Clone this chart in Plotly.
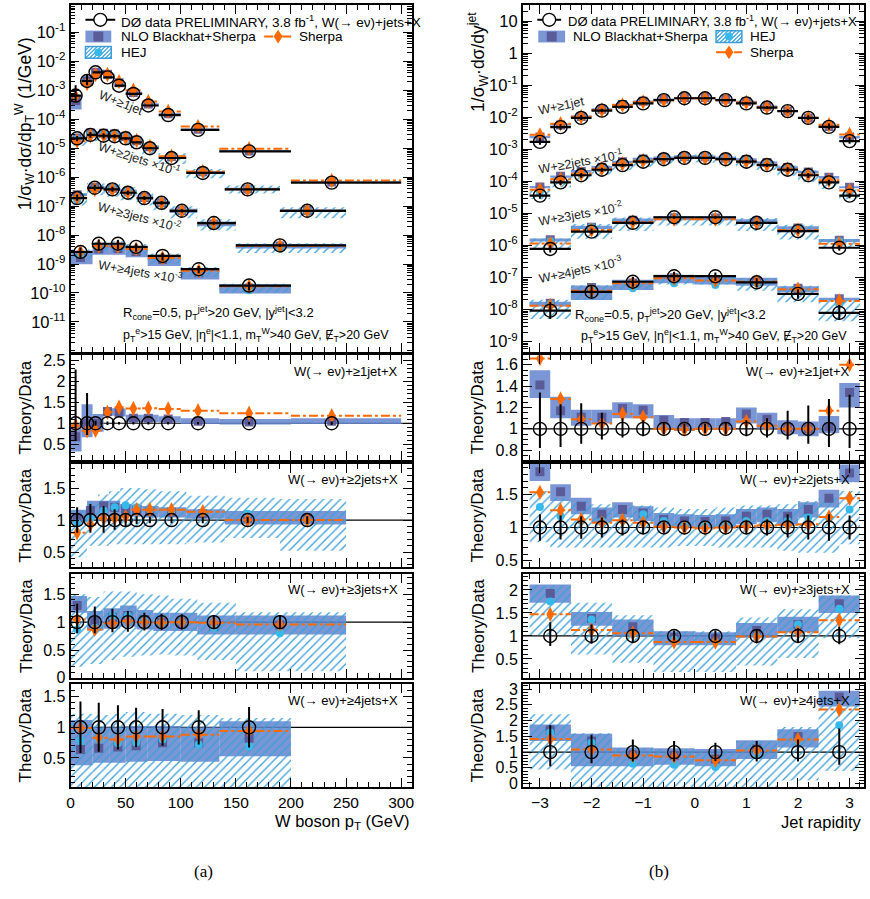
import plotly.graph_objects as go

W, H = 870, 899
FONT = "Liberation Sans, Arial, Helvetica, sans-serif"
NLO_COL = "rgba(100,132,204,0.85)"
NLO_DARK = "rgba(88,84,146,0.9)"
HEJ_COL = "#3a9fd8"
HEJ_DOT = "#38b9ec"
SH_COL = "#ff6a00"

# ======================= W boson pT (left column) =======================
pt_edges_1j = [0, 10, 20, 30, 40, 50, 65, 80, 100, 135, 200, 300]
pt_x_1j = [4.6, 15, 22.7, 33.5, 44, 57, 70.6, 88.6, 115.7, 162, 237]
pt_data_1j = [6.6e-4, 2.1e-3, 4.2e-3, 2.8e-3, 1.45e-3, 7.5e-4, 3.0e-4, 1.4e-4, 4.3e-5, 7.8e-6, 6.5e-7]
pt_eup_1j = [1.28, 0.72, 0.06, 0.04, 0.03, 0.03, 0.03, 0.03, 0.03, 0.03, 0.04]
pt_edn_1j = [0.42, 0.28, 0.06, 0.04, 0.03, 0.03, 0.03, 0.03, 0.03, 0.03, 0.04]
pt_nlo_1j = [0.68, 1.0, 1.0, 1.28, 1.26, 1.12, 1.12, 1.1, 1.05, 1.03, 1.05]
pt_nlo_lo_1j = [0.33, 0.67, 0.8, 1.18, 1.16, 1.03, 1.03, 1.02, 0.98, 0.97, 0.98]
pt_nlo_hi_1j = [1.0, 1.45, 1.22, 1.36, 1.35, 1.2, 1.2, 1.17, 1.12, 1.1, 1.12]
pt_sh_1j = [0.94, 0.82, 0.83, 1.26, 1.38, 1.35, 1.36, 1.34, 1.30, 1.24, 1.18]

pt_edges_2j = [0, 15, 25, 35, 45, 55, 65, 80, 105, 140, 190, 250]
pt_x_2j = [6, 18, 30, 40, 50, 60, 72, 91.6, 120, 160.7, 214.8]
pt_data_2j = [2.2e-5, 2.9e-5, 2.7e-5, 2.6e-5, 2.2e-5, 1.6e-5, 1.0e-5, 4.6e-6, 1.4e-6, 3.8e-7, 6.9e-8]
pt_eup_2j = [0.2, 0.25, 0.22, 0.17, 0.1, 0.06, 0.05, 0.05, 0.05, 0.05, 0.06]
pt_edn_2j = [0.2, 0.2, 0.2, 0.15, 0.1, 0.06, 0.05, 0.05, 0.05, 0.05, 0.06]
pt_nlo_2j = [1.03, 1.15, 1.22, 1.2, 1.17, 1.15, 1.13, 1.12, 1.1, 1.03, 1.03]
pt_nlo_lo_2j = [0.96, 1.02, 1.05, 1.05, 1.05, 1.05, 1.04, 1.04, 1.02, 0.93, 0.93]
pt_nlo_hi_2j = [1.16, 1.3, 1.3, 1.3, 1.25, 1.24, 1.22, 1.2, 1.17, 1.14, 1.14]
pt_hej_2j = [0.95, 1.02, 1.15, 1.2, 1.23, 1.2, 1.16, 1.15, 1.12, 1.1, 1.0]
pt_hej_lo_2j = [0.42, 0.6, 0.6, 0.62, 0.62, 0.62, 0.62, 0.62, 0.65, 0.72, 0.52]
pt_hej_hi_2j = [1.15, 1.28, 1.4, 1.45, 1.5, 1.5, 1.48, 1.45, 1.38, 1.35, 1.33]
pt_sh_2j = [0.80, 0.93, 1.03, 1.03, 1.05, 1.16, 1.16, 1.16, 1.13, 1.0, 1.0]

pt_edges_3j = [0, 15, 30, 45, 60, 75, 90, 115, 150, 250]
pt_x_3j = [6, 22, 38, 52, 67, 82.6, 101, 130, 190]
pt_data_3j = [1.9e-7, 4.3e-7, 3.8e-7, 2.9e-7, 1.9e-7, 1.3e-7, 6.9e-8, 2.6e-8, 4.4e-9]
pt_eup_3j = [0.33, 0.28, 0.24, 0.2, 0.17, 0.15, 0.14, 0.13, 0.13]
pt_edn_3j = [0.2, 0.2, 0.18, 0.17, 0.15, 0.14, 0.13, 0.12, 0.12]
pt_nlo_3j = [1.3, 1.02, 1.08, 1.12, 1.05, 1.0, 1.0, 0.93, 0.95]
pt_nlo_lo_3j = [1.17, 0.85, 0.88, 0.92, 0.87, 0.84, 0.84, 0.78, 0.78]
pt_nlo_hi_3j = [1.47, 1.2, 1.25, 1.3, 1.22, 1.17, 1.17, 1.12, 1.12]
pt_hej_3j = [0.87, 0.9, 1.1, 1.12, 1.02, 0.98, 1.0, 0.9, 0.8]
pt_hej_lo_3j = [0.2, 0.25, 0.32, 0.38, 0.4, 0.42, 0.4, 0.32, 0.12]
pt_hej_hi_3j = [1.5, 1.45, 1.55, 1.55, 1.5, 1.48, 1.42, 1.35, 1.18]
pt_sh_3j = [1.05, 0.87, 0.98, 1.02, 1.0, 0.99, 1.0, 0.99, 0.96]

pt_edges_4j = [0, 20, 35, 50, 70, 100, 135, 200]
pt_x_4j = [9, 25.6, 43, 59.5, 83.5, 116.3, 162]
pt_data_4j = [2.6e-9, 5.0e-9, 5.0e-9, 3.9e-9, 1.9e-9, 6.6e-10, 1.8e-10]
pt_eup_4j = [0.42, 0.4, 0.36, 0.32, 0.3, 0.28, 0.33]
pt_edn_4j = [0.42, 0.4, 0.36, 0.32, 0.3, 0.28, 0.33]
pt_nlo_4j = [0.64, 0.66, 0.68, 0.7, 0.75, 0.75, 0.82]
pt_nlo_lo_4j = [0.38, 0.42, 0.42, 0.44, 0.45, 0.44, 0.53]
pt_nlo_hi_4j = [1.12, 1.0, 1.0, 1.02, 1.02, 1.0, 1.1]
pt_hej_4j = [0.78, 0.8, 0.74, 0.75, 0.8, 0.72, 0.69]
pt_hej_lo_4j = [0.02, 0.02, 0.02, 0.02, 0.02, 0.02, 0.02]
pt_hej_hi_4j = [1.22, 1.2, 1.22, 1.25, 1.22, 1.2, 1.15]
pt_sh_4j = [0.99, 0.83, 0.8, 0.85, 0.85, 0.88, 0.94]

# ======================= Jet rapidity (right column) =======================
y_edges_16 = [-3.2, -2.8, -2.4, -2.0, -1.6, -1.2, -0.8, -0.4, 0.0, 0.4, 0.8, 1.2, 1.6, 2.0, 2.4, 2.8, 3.2]
y_x_16 = [-3.0, -2.6, -2.2, -1.8, -1.4, -1.0, -0.6, -0.2, 0.2, 0.6, 1.0, 1.4, 1.8, 2.2, 2.6, 3.0]
y_edges_8 = [-3.2, -2.4, -1.6, -0.8, 0.0, 0.8, 1.6, 2.4, 3.2]
y_x_8 = [-2.8, -2.0, -1.2, -0.4, 0.4, 1.2, 2.0, 2.8]

y_data_1j = [1.7e-3, 4.9e-3, 9.5e-3, 1.6e-2, 2.1e-2, 2.7e-2, 3.4e-2, 3.9e-2, 3.9e-2, 3.4e-2, 2.7e-2, 2.0e-2, 1.55e-2, 9.5e-3, 5.0e-3, 1.8e-3]
y_eup_1j = [0.34, 0.23, 0.24, 0.15, 0.1, 0.08, 0.06, 0.05, 0.05, 0.06, 0.08, 0.1, 0.17, 0.22, 0.28, 0.32]
y_edn_1j = [0.18, 0.17, 0.14, 0.1, 0.08, 0.07, 0.05, 0.04, 0.04, 0.05, 0.07, 0.08, 0.1, 0.14, 0.17, 0.18]
y_nlo_1j = [1.41, 1.17, 1.11, 1.11, 1.19, 1.175, 1.08, 1.06, 1.06, 1.07, 1.14, 1.09, 1.01, 1.0, 1.02, 1.34]
y_nlo_lo_1j = [1.29, 1.1, 1.03, 1.05, 1.1, 1.1, 1.0, 0.98, 0.99, 0.99, 1.05, 1.0, 0.95, 0.93, 0.96, 1.2]
y_nlo_hi_1j = [1.55, 1.3, 1.18, 1.18, 1.25, 1.23, 1.13, 1.1, 1.1, 1.1, 1.2, 1.15, 1.08, 1.07, 1.12, 1.43]
y_sh_1j = [1.66, 1.28, 1.09, 1.05, 1.14, 1.11, 1.0, 0.995, 1.0, 1.0, 1.07, 1.03, 1.0, 1.0, 1.17, 1.6]

y_data_2j = [3.6e-5, 9.3e-5, 1.55e-4, 2.3e-4, 3.2e-4, 4.1e-4, 4.9e-4, 5.4e-4, 5.4e-4, 4.9e-4, 4.1e-4, 3.2e-4, 2.3e-4, 1.55e-4, 9.3e-5, 3.6e-5]
y_eup_2j = [0.2, 0.18, 0.17, 0.15, 0.12, 0.1, 0.08, 0.07, 0.07, 0.08, 0.1, 0.12, 0.2, 0.18, 0.2, 0.18]
y_edn_2j = [0.2, 0.18, 0.17, 0.15, 0.12, 0.1, 0.08, 0.07, 0.07, 0.08, 0.1, 0.12, 0.15, 0.18, 0.2, 0.18]
y_nlo_2j = [1.84, 1.54, 1.32, 1.2, 1.27, 1.22, 1.12, 1.1, 1.09, 1.1, 1.17, 1.2, 1.17, 1.27, 1.44, 1.82]
y_nlo_lo_2j = [1.7, 1.4, 1.2, 1.08, 1.15, 1.1, 1.02, 1.0, 0.99, 1.0, 1.05, 1.08, 1.05, 1.15, 1.3, 1.68]
y_nlo_hi_2j = [2.0, 1.65, 1.45, 1.3, 1.38, 1.32, 1.22, 1.2, 1.19, 1.2, 1.28, 1.3, 1.28, 1.38, 1.57, 1.95]
y_hej_2j = [1.31, 1.17, 1.1, 1.1, 1.12, 1.2, 1.1, 1.05, 1.05, 1.05, 1.1, 1.1, 1.1, 1.15, 1.15, 1.27]
y_hej_lo_2j = [0.78, 0.7, 0.7, 0.7, 0.7, 0.7, 0.7, 0.72, 0.72, 0.7, 0.7, 0.7, 0.65, 0.62, 0.62, 0.75]
y_hej_hi_2j = [1.55, 1.45, 1.4, 1.35, 1.33, 1.33, 1.3, 1.28, 1.28, 1.3, 1.33, 1.33, 1.35, 1.4, 1.45, 1.55]
y_sh_2j = [1.53, 1.26, 1.12, 1.07, 1.11, 1.07, 1.01, 1.0, 0.99, 1.0, 1.02, 1.03, 1.04, 1.05, 1.16, 1.44]

y_data_3j = [7.8e-7, 2.7e-6, 5.1e-6, 7.6e-6, 7.6e-6, 5.1e-6, 2.8e-6, 8.5e-7]
y_eup_3j = [0.3, 0.25, 0.15, 0.12, 0.12, 0.13, 0.17, 0.2]
y_edn_3j = [0.22, 0.17, 0.15, 0.1, 0.1, 0.13, 0.15, 0.18]
y_nlo_3j = [1.92, 1.38, 1.2, 0.97, 0.95, 1.12, 1.25, 1.7]
y_nlo_lo_3j = [1.72, 1.22, 1.0, 0.8, 0.8, 0.96, 1.08, 1.5]
y_nlo_hi_3j = [2.12, 1.52, 1.36, 1.1, 1.08, 1.28, 1.42, 1.88]
y_hej_3j = [1.75, 1.36, 1.05, 0.92, 0.87, 1.0, 1.25, 1.59]
y_hej_lo_3j = [1.02, 0.6, 0.42, 0.22, 0.22, 0.36, 0.52, 0.95]
y_hej_hi_3j = [2.1, 1.72, 1.45, 1.1, 1.1, 1.4, 1.58, 1.88]
y_sh_3j = [1.47, 1.13, 1.06, 0.87, 0.87, 0.99, 1.08, 1.34]

y_data_4j = [9.3e-9, 3.6e-8, 7.4e-8, 1.1e-7, 1.1e-7, 7.1e-8, 3.1e-8, 7.9e-9]
y_eup_4j = [0.85, 0.55, 0.4, 0.35, 0.3, 0.35, 0.4, 0.75]
y_edn_4j = [0.45, 0.35, 0.3, 0.3, 0.28, 0.3, 0.3, 0.4]
y_nlo_4j = [1.7, 1.35, 0.92, 0.9, 0.78, 1.1, 1.5, 2.75]
y_nlo_lo_4j = [1.35, 0.55, 0.55, 0.6, 0.55, 0.78, 1.15, 2.45]
y_nlo_hi_4j = [1.88, 1.58, 1.15, 1.12, 1.1, 1.38, 1.73, 2.95]
y_hej_4j = [1.62, 1.3, 0.63, 0.6, 0.53, 0.95, 1.35, 1.85]
y_hej_lo_4j = [0.45, -0.2, -0.2, -0.2, -0.2, -0.2, 0.1, 0.4]
y_hej_hi_4j = [2.2, 1.6, 1.12, 1.1, 1.05, 1.35, 1.8, 2.75]
y_sh_4j = [1.42, 1.08, 0.89, 0.86, 0.74, 1.05, 1.4, 2.35]

# ======================= geometry =======================
LEFT = (67, 411)
RIGHT = (522.5, 866)
ROWS = [(2, 354), (357, 463), (467, 572), (579, 684), (690, 795)]


def fx(px):
    return px / W


def fy(py):
    return 1 - py / H


fig = go.Figure()


def step_xy(edges, vals):
    xs, ys = [], []
    for a, b, v in zip(edges[:-1], edges[1:], vals):
        xs += [a, b, None]
        ys += [v, v, None]
    return xs, ys


def add_series(ax, edges, xs, data, eu, ed, nlo, nlo_lo, nlo_hi, hej, hej_lo, hej_hi, sh, ratio):
    xa, ya = "x%d" % ax, "y%d" % ax
    n = len(xs)
    lo_e, hi_e = edges[:-1], edges[1:]
    centers = [(a + b) / 2 for a, b in zip(lo_e, hi_e)]
    widths = [b - a for a, b in zip(lo_e, hi_e)]
    scale = [1.0] * n if ratio else list(data)
    # NLO band
    base = [s * l for s, l in zip(scale, nlo_lo)]
    top = [s * h for s, h in zip(scale, nlo_hi)]
    fig.add_trace(go.Bar(x=centers, y=[t - b for t, b in zip(top, base)], base=base, width=widths,
                         marker=dict(color=NLO_COL, line=dict(width=0)), xaxis=xa, yaxis=ya,
                         hoverinfo="skip"))
    # HEJ hatched band
    if hej is not None:
        if ratio:
            hl = hej_lo
        else:
            hl = [max(v, 0.55) for v in hej_lo]
        hb = [s * l for s, l in zip(scale, hl)]
        ht = [s * h for s, h in zip(scale, hej_hi)]
        fig.add_trace(go.Bar(x=centers, y=[t - b for t, b in zip(ht, hb)], base=hb, width=widths,
                             marker=dict(color="rgba(0,0,0,0)", line=dict(width=0),
                                         pattern=dict(shape="/", fgcolor=HEJ_COL, bgcolor="rgba(0,0,0,0)",
                                                      size=6, solidity=0.22, fillmode="replace")),
                             xaxis=xa, yaxis=ya, hoverinfo="skip"))
    # NLO central squares
    fig.add_trace(go.Scatter(x=xs, y=[s * v for s, v in zip(scale, nlo)], mode="markers",
                             marker=dict(symbol="square", size=9, color=NLO_DARK),
                             xaxis=xa, yaxis=ya, hoverinfo="skip"))
    # HEJ central dots
    if hej is not None:
        fig.add_trace(go.Scatter(x=xs, y=[s * v for s, v in zip(scale, hej)], mode="markers",
                                 marker=dict(symbol="circle", size=8, color=HEJ_DOT),
                                 xaxis=xa, yaxis=ya, hoverinfo="skip"))
    # Sherpa
    shv = [s * v for s, v in zip(scale, sh)]
    lx, ly = step_xy(edges, shv)
    fig.add_trace(go.Scatter(x=lx, y=ly, mode="lines", line=dict(color=SH_COL, width=2, dash="dashdot"),
                             xaxis=xa, yaxis=ya, hoverinfo="skip"))
    fig.add_trace(go.Scatter(x=xs, y=shv, mode="markers",
                             marker=dict(symbol="diamond-tall", size=11, color=SH_COL),
                             xaxis=xa, yaxis=ya, hoverinfo="skip"))
    # data
    dv = [s * 1.0 for s in scale]
    ex = None
    if not ratio:
        ex = dict(type="data", symmetric=False, array=[b - x for x, b in zip(xs, hi_e)],
                  arrayminus=[x - a for x, a in zip(xs, lo_e)], thickness=2.2, width=0, color="black")
    fig.add_trace(go.Scatter(x=xs, y=dv, mode="markers",
                             marker=dict(symbol="circle-open", size=13, color="black", line=dict(width=1.4)),
                             error_y=dict(type="data", symmetric=False, array=[s * e for s, e in zip(dv, eu)],
                                          arrayminus=[s * e for s, e in zip(dv, ed)], thickness=2, width=0,
                                          color="black"),
                             error_x=ex, xaxis=xa, yaxis=ya, hoverinfo="skip"))


left_sets = [
    (pt_edges_1j, pt_x_1j, pt_data_1j, pt_eup_1j, pt_edn_1j, pt_nlo_1j, pt_nlo_lo_1j, pt_nlo_hi_1j, None, None, None, pt_sh_1j),
    (pt_edges_2j, pt_x_2j, pt_data_2j, pt_eup_2j, pt_edn_2j, pt_nlo_2j, pt_nlo_lo_2j, pt_nlo_hi_2j, pt_hej_2j, pt_hej_lo_2j, pt_hej_hi_2j, pt_sh_2j),
    (pt_edges_3j, pt_x_3j, pt_data_3j, pt_eup_3j, pt_edn_3j, pt_nlo_3j, pt_nlo_lo_3j, pt_nlo_hi_3j, pt_hej_3j, pt_hej_lo_3j, pt_hej_hi_3j, pt_sh_3j),
    (pt_edges_4j, pt_x_4j, pt_data_4j, pt_eup_4j, pt_edn_4j, pt_nlo_4j, pt_nlo_lo_4j, pt_nlo_hi_4j, pt_hej_4j, pt_hej_lo_4j, pt_hej_hi_4j, pt_sh_4j),
]
right_sets = [
    (y_edges_16, y_x_16, y_data_1j, y_eup_1j, y_edn_1j, y_nlo_1j, y_nlo_lo_1j, y_nlo_hi_1j, None, None, None, y_sh_1j),
    (y_edges_16, y_x_16, y_data_2j, y_eup_2j, y_edn_2j, y_nlo_2j, y_nlo_lo_2j, y_nlo_hi_2j, y_hej_2j, y_hej_lo_2j, y_hej_hi_2j, y_sh_2j),
    (y_edges_8, y_x_8, y_data_3j, y_eup_3j, y_edn_3j, y_nlo_3j, y_nlo_lo_3j, y_nlo_hi_3j, y_hej_3j, y_hej_lo_3j, y_hej_hi_3j, y_sh_3j),
    (y_edges_8, y_x_8, y_data_4j, y_eup_4j, y_edn_4j, y_nlo_4j, y_nlo_lo_4j, y_nlo_hi_4j, y_hej_4j, y_hej_lo_4j, y_hej_hi_4j, y_sh_4j),
]

for i, s in enumerate(left_sets):
    add_series(1, *s, ratio=False)
    add_series(2 + i, *s, ratio=True)
for i, s in enumerate(right_sets):
    add_series(6, *s, ratio=False)
    add_series(7 + i, *s, ratio=True)

# ======================= axes =======================
TICKFONT = dict(family=FONT, size=16, color="black")


def base_axis():
    return dict(showline=True, linecolor="black", linewidth=1.8, mirror="allticks", ticks="inside",
                ticklen=9, tickwidth=1.2, tickcolor="black", showgrid=False, zeroline=False,
                tickfont=TICKFONT)


layout = dict(width=W, height=H, margin=dict(l=0, r=0, t=0, b=0), autosize=False,
              paper_bgcolor="white", plot_bgcolor="rgba(0,0,0,0)", showlegend=False,
              barmode="overlay", font=dict(family=FONT, color="black"))

ratio_ranges = {2: [0.13, 2.62], 3: [0.26, 1.88], 4: [0.0, 1.86], 5: [0.02, 1.71],
                7: [0.71, 1.69], 8: [0.40, 1.96], 9: [0.09, 2.34], 10: [-0.12, 3.17]}
ratio_dtick = {2: 0.5, 3: 0.5, 4: 0.5, 5: 0.5, 7: 0.2, 8: 0.5, 9: 0.5, 10: 0.5}
ratio_minor = {2: 0.1, 3: 0.1, 4: 0.1, 5: 0.1, 7: 0.05, 8: 0.1, 9: 0.1, 10: 0.1}

for ax in range(1, 11):
    left = ax <= 5
    row = (ax - 1) % 5
    xd = LEFT if left else RIGHT
    yd = ROWS[row]
    xa = base_axis()
    xa.update(domain=[fx(xd[0]), fx(xd[1])], anchor="y%d" % ax,
              showticklabels=(ax in (5, 10)), tickfont=dict(family=FONT, size=15.5, color="black"))
    if left:
        xa.update(range=[0, 310], tickmode="linear", tick0=0, dtick=50,
                  minor=dict(dtick=10, ticks="inside", ticklen=5, tickcolor="black"))
    else:
        xa.update(range=[-3.33, 3.28], tickmode="linear", tick0=0, dtick=1,
                  minor=dict(dtick=0.2, ticks="inside", ticklen=5, tickcolor="black"))
    ya = base_axis()
    ya.update(domain=[fy(yd[1]), fy(yd[0])], anchor="x%d" % ax)
    if ax == 1:
        vals = [10.0 ** (-k) for k in range(1, 12)]
        ya.update(type="log", range=[-12.05, -0.05], tickmode="array", tickvals=vals,
                  ticktext=["10<sup>-%d</sup>" % k for k in range(1, 12)],
                  minor=dict(dtick="D1", ticks="inside", ticklen=5, tickcolor="black"),
                  tickfont=dict(family=FONT, size=16.5, color="black"))
    elif ax == 6:
        vals = [10.0 ** k for k in range(-9, 2)]
        txt = ["10<sup>%d</sup>" % k if k < 0 else ("1" if k == 0 else "10") for k in range(-9, 2)]
        ya.update(type="log", range=[-9.33, 1.5], tickmode="array", tickvals=vals, ticktext=txt,
                  minor=dict(dtick="D1", ticks="inside", ticklen=5, tickcolor="black"),
                  tickfont=dict(family=FONT, size=16.5, color="black"))
    else:
        ya.update(range=ratio_ranges[ax], tickmode="linear", tick0=0, dtick=ratio_dtick[ax],
                  minor=dict(dtick=ratio_minor[ax], ticks="inside", ticklen=5, tickcolor="black"))
    layout["xaxis" if ax == 1 else "xaxis%d" % ax] = xa
    layout["yaxis" if ax == 1 else "yaxis%d" % ax] = ya

fig.update_layout(**layout)

shapes = []
annots = []

# unit lines in ratio panels
for ax in (2, 3, 4, 5, 7, 8, 9, 10):
    shapes.append(dict(type="line", xref="x%d domain" % ax, yref="y%d" % ax, x0=0, x1=1, y0=1, y1=1,
                       line=dict(color="black", width=1.2), layer="below"))


def ann(text, x, y, size=13, xanchor="left", yanchor="middle", angle=0, color="black", family=FONT):
    annots.append(dict(text=text, x=fx(x), y=fy(y), xref="paper", yref="paper", showarrow=False,
                       xanchor=xanchor, yanchor=yanchor, textangle=angle,
                       font=dict(family=family, size=size, color=color)))


# ---------- legends ----------
def leg_data(cx, cy, x0, x1):
    shapes.append(dict(type="line", xref="paper", yref="paper", x0=fx(x0), x1=fx(x1), y0=fy(cy), y1=fy(cy),
                       line=dict(color="black", width=2)))
    shapes.append(dict(type="circle", xref="paper", yref="paper", x0=fx(cx - 6.5), x1=fx(cx + 6.5),
                       y0=fy(cy + 6.5), y1=fy(cy - 6.5), fillcolor="white", line=dict(color="black", width=1.4)))


def leg_nlo(x0, x1, cy):
    shapes.append(dict(type="rect", xref="paper", yref="paper", x0=fx(x0), x1=fx(x1), y0=fy(cy + 6),
                       y1=fy(cy - 6), fillcolor=NLO_COL, line=dict(width=0)))
    c = (x0 + x1) / 2
    shapes.append(dict(type="rect", xref="paper", yref="paper", x0=fx(c - 5), x1=fx(c + 5), y0=fy(cy + 5),
                       y1=fy(cy - 5), fillcolor=NLO_DARK, line=dict(width=0)))


def leg_hej(x0, x1, cy):
    y0p, y1p = cy - 6, cy + 6
    w, h = x1 - x0, y1p - y0p
    t = -h
    while t < w:
        s0, s1 = max(0, -t), min(h, w - t)
        if s1 > s0:
            shapes.append(dict(type="line", xref="paper", yref="paper",
                               x0=fx(x0 + t + s0), y0=fy(y1p - s0), x1=fx(x0 + t + s1), y1=fy(y1p - s1),
                               line=dict(color=HEJ_COL, width=1.2)))
        t += 4
    shapes.append(dict(type="rect", xref="paper", yref="paper", x0=fx(x0), x1=fx(x1), y0=fy(y1p),
                       y1=fy(y0p), line=dict(color=HEJ_COL, width=1.5)))
    c = (x0 + x1) / 2
    shapes.append(dict(type="circle", xref="paper", yref="paper", x0=fx(c - 4), x1=fx(c + 4), y0=fy(cy + 4),
                       y1=fy(cy - 4), fillcolor=HEJ_DOT, line=dict(width=0)))


def leg_sherpa(x0, x1, cy):
    shapes.append(dict(type="line", xref="paper", yref="paper", x0=fx(x0), x1=fx(x1), y0=fy(cy), y1=fy(cy),
                       line=dict(color=SH_COL, width=2, dash="dashdot")))
    c = (x0 + x1) / 2
    path = "M %f %f L %f %f L %f %f L %f %f Z" % (fx(c), fy(cy - 7), fx(c + 4.5), fy(cy), fx(c), fy(cy + 7),
                                                  fx(c - 4.5), fy(cy))
    shapes.append(dict(type="path", xref="paper", yref="paper", path=path, fillcolor=SH_COL,
                       line=dict(width=0)))


DATA_LBL = "DØ data PRELIMINARY, 3.8 fb<sup>-1</sup>, W(→ eν)+jets+X"
# left legend
leg_data(97, 17, 82, 112)
ann(DATA_LBL, 116, 18, size=13.5)
leg_nlo(82, 108, 34)
ann("NLO Blackhat+Sherpa", 116, 34, size=13.5)
leg_sherpa(262, 290, 34)
ann("Sherpa", 295, 34, size=13.5)
leg_hej(82, 108, 50)
ann("HEJ", 116, 50, size=13.5)
# right legend
leg_data(549, 17, 537, 561)
ann(DATA_LBL, 566, 18, size=13)
leg_nlo(538, 565, 34)
ann("NLO Blackhat+Sherpa", 571, 34, size=13.5)
leg_hej(717, 743, 34)
ann("HEJ", 749, 34, size=13.5)
leg_sherpa(717, 743, 50)
ann("Sherpa", 749, 50, size=13.5)

# ---------- panel labels ----------
GRAY = "#222222"
ann("W+≥1jet", 118, 101, size=12.5, xanchor="center", angle=22, color=GRAY)
ann("W+≥2jets ×10<sup>-1</sup>", 136, 157, size=12.5, xanchor="center", angle=18, color=GRAY)
ann("W+≥3jets ×10<sup>-2</sup>", 136, 216, size=12.5, xanchor="center", angle=15, color=GRAY)
ann("W+≥4jets ×10<sup>-3</sup>", 137, 272, size=12.5, xanchor="center", angle=10, color=GRAY)

ann("W+≥1jet", 561, 104, size=12.5, xanchor="center", angle=-12, color=GRAY)
ann("W+≥2jets ×10<sup>-1</sup>", 580, 160, size=12.5, xanchor="center", angle=-10, color=GRAY)
ann("W+≥3jets ×10<sup>-2</sup>", 581, 213, size=12.5, xanchor="center", angle=-10, color=GRAY)
ann("W+≥4jets ×10<sup>-3</sup>", 581, 270, size=12.5, xanchor="center", angle=-12, color=GRAY)

CUT1 = "R<sub>cone</sub>=0.5, p<sub>T</sub><sup>jet</sup>&gt;20 GeV, |y<sup>jet</sup>|&lt;3.2"
CUT2 = ("p<sub>T</sub><sup>e</sup>&gt;15 GeV, |η<sup>e</sup>|&lt;1.1, m<sub>T</sub><sup>W</sup>&gt;40 GeV, "
        "Ɇ<sub>T</sub>&gt;20 GeV")
ann(CUT1, 118, 314, size=13)
ann(CUT2, 118, 336, size=12.5)
ann(CUT1, 573, 316, size=13)
ann(CUT2, 579, 337, size=12.5)

rlabels = ["W(→ eν)+≥1jet+X", "W(→ eν)+≥2jets+X", "W(→ eν)+≥3jets+X", "W(→ eν)+≥4jets+X"]
rl_y = [373, 483, 594, 707]
for t, yy in zip(rlabels, rl_y):
    ann(t, 399, yy, size=13, xanchor="right")
    ann(t, 854, yy, size=13, xanchor="right")

# ---------- axis titles ----------
ann("1/σ<sub>W</sub>·dσ/dp<sub>T</sub><sup>W</sup> (1/GeV)", 21, 122, size=17.5, xanchor="center", angle=-90)
ann("1/σ<sub>W</sub>·dσ/dy<sup>jet</sup>", 477, 60, size=17.5, xanchor="center", angle=-90)
for r in range(1, 5):
    cy = (ROWS[r][0] + ROWS[r][1]) / 2
    ann("Theory/Data", 22, cy, size=17, xanchor="center", angle=-90)
    ann("Theory/Data", 477, cy, size=17, xanchor="center", angle=-90)
ann("W boson p<sub>T</sub> (GeV)", 411, 830, size=16.5, xanchor="right")
ann("Jet rapidity", 866, 830, size=16.5, xanchor="right")

ann("(a)", 201, 880, size=17, xanchor="center", family="Liberation Serif, Times New Roman, serif")
ann("(b)", 660, 880, size=17, xanchor="center", family="Liberation Serif, Times New Roman, serif")

fig.update_layout(shapes=shapes, annotations=annots)
fig.write_html("out.html")
